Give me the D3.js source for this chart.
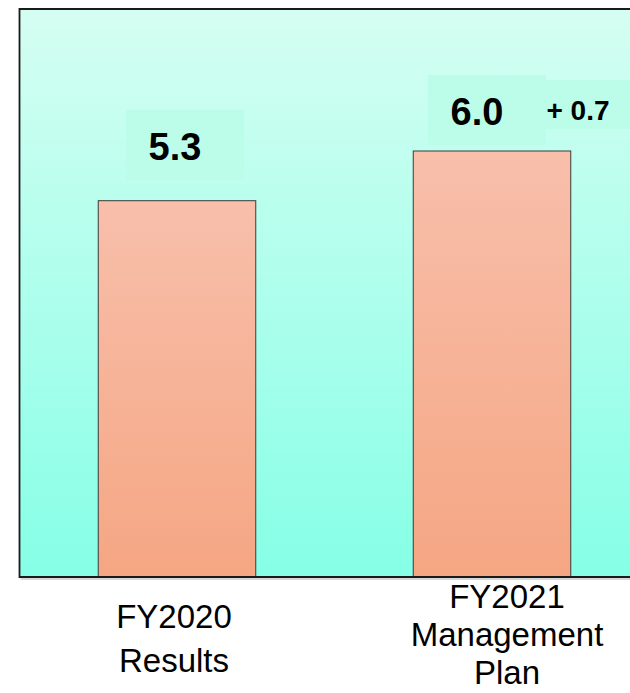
<!DOCTYPE html>
<html>
<head>
<meta charset="utf-8">
<script src="https://cdn.jsdelivr.net/npm/d3@7"></script>
<style>
  html, body { margin: 0; padding: 0; background: #ffffff; }
  svg { display: block; }
  text { font-family: "Liberation Sans", Arial, sans-serif; }
</style>
</head>
<body>
<script>
// ---- data ----
const categories = ["FY2020 Results", "FY2021 Management Plan"];
const categoryLines = [["FY2020", "Results"], ["FY2021", "Management", "Plan"]];
const values = [5.3, 6.0];
const valueLabels = ["5.3", "6.0"];
const diffLabel = "+ 0.7";
const yDomain = [0, 8];

// ---- layout ----
const W = 630, H = 693;
const plot = { left: 19.5, top: 9, bottom: 577, right: 649.5 };

const svg = d3.select("body").append("svg").attr("width", W).attr("height", H);
const defs = svg.append("defs");

const bgGrad = defs.append("linearGradient").attr("id", "bg")
  .attr("x1", 0).attr("y1", 0).attr("x2", 0).attr("y2", 1);
bgGrad.append("stop").attr("offset", "0%").attr("stop-color", "#d5fef2");
bgGrad.append("stop").attr("offset", "100%").attr("stop-color", "#86ffe6");

const barGrad = defs.append("linearGradient").attr("id", "bar")
  .attr("x1", 0).attr("y1", 0).attr("x2", 0).attr("y2", 1);
barGrad.append("stop").attr("offset", "0%").attr("stop-color", "#f8bfab");
barGrad.append("stop").attr("offset", "100%").attr("stop-color", "#f5a683");

const x = d3.scaleBand().domain(categories)
  .range([plot.left, plot.right]).paddingInner(0.5).paddingOuter(0.25);
const y = d3.scaleLinear().domain(yDomain).range([plot.bottom, plot.top]);

// background
svg.append("rect")
  .attr("x", plot.left).attr("y", plot.top)
  .attr("width", W - plot.left).attr("height", plot.bottom - plot.top)
  .attr("fill", "url(#bg)");

// value label boxes
const boxLayout = [
  { dx: 8, w: 118, top: -91, h: 70, tdx: -2, tdy: -41 },
  { dx: -5, w: 118, top: -76, h: 70, tdx: -15, tdy: -26 }
];
svg.selectAll(".vbox").data(values).join("rect")
  .attr("class", "vbox")
  .attr("x", (d, i) => x(categories[i]) + x.bandwidth() / 2 + boxLayout[i].dx - boxLayout[i].w / 2)
  .attr("y", (d, i) => y(d) + boxLayout[i].top)
  .attr("width", (d, i) => boxLayout[i].w)
  .attr("height", (d, i) => boxLayout[i].h)
  .attr("fill", "#bcfde9");

// diff box
const x2 = x(categories[1]) + x.bandwidth() / 2;
svg.append("rect")
  .attr("x", x2 + 53).attr("y", y(values[1]) - 71)
  .attr("width", W - (x2 + 53)).attr("height", 49)
  .attr("fill", "#bcfde9");

// bars
svg.selectAll(".bar").data(values).join("rect")
  .attr("class", "bar")
  .attr("x", (d, i) => x(categories[i]))
  .attr("y", d => y(d))
  .attr("width", x.bandwidth())
  .attr("height", d => y(0) - y(d))
  .attr("fill", "url(#bar)")
  .attr("stroke", "#3a3a3a").attr("stroke-width", 1);

// value labels
svg.selectAll(".vlabel").data(values).join("text")
  .attr("class", "vlabel")
  .attr("x", (d, i) => x(categories[i]) + x.bandwidth() / 2 + boxLayout[i].tdx)
  .attr("y", (d, i) => y(d) + boxLayout[i].tdy)
  .attr("text-anchor", "middle")
  .attr("font-weight", "bold").attr("font-size", 38).attr("fill", "#000")
  .text((d, i) => valueLabels[i]);

svg.append("text")
  .attr("x", x2 + 86).attr("y", y(values[1]) - 31)
  .attr("text-anchor", "middle")
  .attr("font-weight", "bold").attr("font-size", 28).attr("fill", "#000")
  .text(diffLabel);

// frame (left, top, bottom)
svg.append("path")
  .attr("d", `M${W},${plot.top} H${plot.left} V${plot.bottom} H${W}`)
  .attr("fill", "none").attr("stroke", "#1a1a1a").attr("stroke-width", 1.8);
svg.append("path")
  .attr("d", `M${plot.left + 1},${plot.bottom + 2} H${W}`)
  .attr("fill", "none").attr("stroke", "#b0b0b0").attr("stroke-width", 1);

// category labels
const catLayout = [
  { dx: -3, y0: 628, lh: 44 },
  { dx: 15, y0: 608, lh: 38 }
];
categoryLines.forEach((lines, i) => {
  const cx = x(categories[i]) + x.bandwidth() / 2 + catLayout[i].dx;
  svg.append("text")
    .attr("text-anchor", "middle")
    .attr("font-size", 33).attr("fill", "#000")
    .selectAll("tspan").data(lines).join("tspan")
    .attr("x", cx)
    .attr("y", (d, j) => catLayout[i].y0 + j * catLayout[i].lh)
    .text(d => d);
});
</script>
</body>
</html>
